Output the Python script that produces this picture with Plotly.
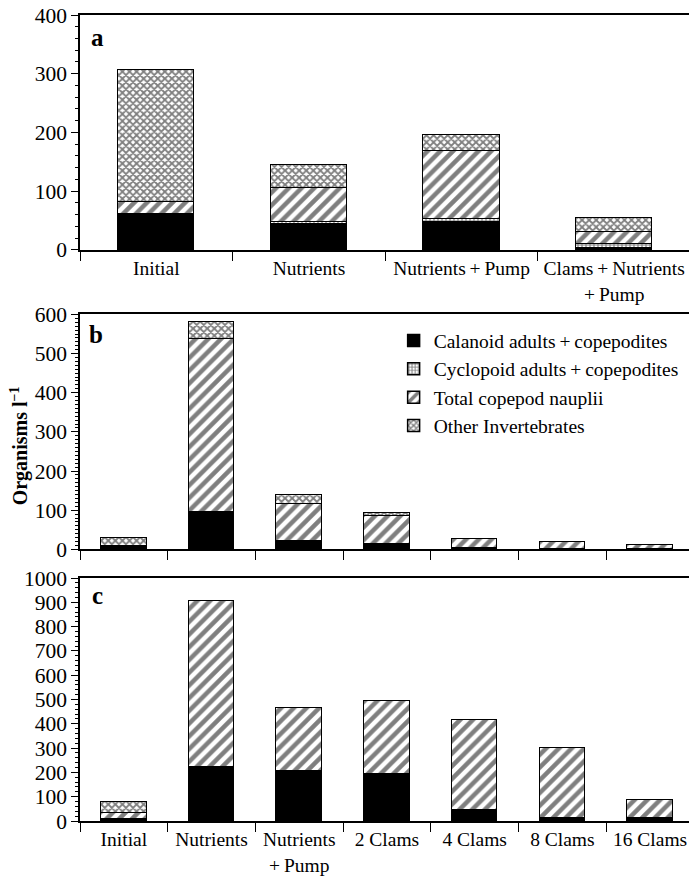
import plotly.graph_objects as go
from plotly.subplots import make_subplots

# ---------------- data ----------------
cats_a = ["Initial", "Nutrients", "Nutrients\u2009+\u2009Pump", "Clams\u2009+\u2009Nutrients<br>+\u2009Pump"]
cal_a = [60, 44, 47, 3]
cyc_a = [2, 4, 5, 7]
nau_a = [20, 58, 116, 20]
oth_a = [224, 38, 28, 25]

cats_bc = ["Initial", "Nutrients", "Nutrients<br>+\u2009Pump", "2 Clams", "4 Clams", "8 Clams", "16 Clams"]
cal_b = [3, 94, 19, 12, 2, 1, 1]
cyc_b = [1, 0, 1, 0, 0, 0, 0]
nau_b = [4, 442, 95, 72, 23, 18, 10]
oth_b = [20, 43, 23, 9, 0, 0, 0]

cal_c = [5, 224, 206, 192, 45, 11, 14]
cyc_c = [2, 0, 0, 0, 0, 0, 0]
nau_c = [24, 682, 257, 301, 370, 289, 73]
oth_c = [45, 0, 0, 0, 0, 0, 0]

series_names = ["Calanoid adults\u2009+\u2009copepodites", "Cyclopoid adults\u2009+\u2009copepodites",
                "Total copepod nauplii", "Other Invertebrates"]
panel_labels = ["a", "b", "c"]
y_title = "Organisms l<sup>\u22121</sup>"

# ---------------- styles ----------------
FONT = "Liberation Serif, Times New Roman, serif"
FS = 19.5
patterns = [
    dict(shape="", fgcolor="black", bgcolor="black"),
    dict(shape="+", size=4, solidity=0.5, fgcolor="black", bgcolor="white"),
    dict(shape="/", size=9, solidity=0.5, fgcolor="black", bgcolor="white"),
    dict(shape="x", size=5, solidity=0.6, fgcolor="black", bgcolor="white"),
]
fills = ["black", "white", "white", "white"]

fig = make_subplots(rows=3, cols=1)

panels = [
    (cats_a, [cal_a, cyc_a, nau_a, oth_a], 0.50),
    (cats_bc, [cal_b, cyc_b, nau_b, oth_b], 0.52),
    (cats_bc, [cal_c, cyc_c, nau_c, oth_c], 0.52),
]

for r, (cats, vals, w) in enumerate(panels, start=1):
    for i, v in enumerate(vals):
        fig.add_trace(go.Bar(
            x=cats, y=v, name=series_names[i], width=w,
            marker=dict(color=fills[i], pattern=patterns[i],
                        line=dict(color="black", width=1.5)),
            showlegend=(r == 2),
        ), row=r, col=1)

doms = [(0.7085, 1.0), (0.337, 0.6285), (0.0, 0.3014)]
ranges = [[0, 400], [0, 600], [0, 1000]]
minor_d = [20, 10, 20]
xr = [[-0.5, 3.49], [-0.5, 6.444], [-0.5, 6.444]]

for r in range(1, 4):
    fig.update_yaxes(row=r, col=1, domain=list(doms[r-1]), range=ranges[r-1], dtick=100,
                     showline=True, linecolor="black", linewidth=1.5, ticks="outside",
                     ticklen=7, tickwidth=1.2, tickcolor="black", showgrid=False, zeroline=False,
                     minor=dict(dtick=minor_d[r-1], ticks="outside", ticklen=3, tickcolor="black", tickwidth=1),
                     tickfont=dict(family=FONT, size=21.5, color="black"))
    fig.update_xaxes(row=r, col=1, type="category", range=xr[r-1], tickson="boundaries",
                     ticks="outside", ticklen=9, tickwidth=1.2, tickcolor="black",
                     showline=True, linecolor="black", linewidth=2, mirror=True,
                     showgrid=False, showticklabels=(r != 2),
                     tickfont=dict(family=FONT, size=FS, color="black"))

label_pos = [(0.028, 0.972), (0.026, 0.603), (0.028, 0.2796)]
for lab, (px, py) in zip(panel_labels, label_pos):
    fig.add_annotation(text="<b>%s</b>" % lab, x=px, y=py, xref="paper", yref="paper",
                       xanchor="center", yanchor="middle",
                       showarrow=False, font=dict(family=FONT, size=25, color="black"))

fig.add_annotation(text="<b>%s</b>" % y_title, x=-0.1, y=0.465, xref="paper", yref="paper",
                   xanchor="center", yanchor="middle",
                   textangle=-90, showarrow=False, font=dict(family=FONT, size=20, color="black"))

fig.update_layout(
    width=689, height=876, barmode="stack", bargap=0,
    margin=dict(l=80, r=0, t=15, b=48),
    plot_bgcolor="white", paper_bgcolor="white",
    font=dict(family=FONT, size=FS, color="black"),
    legend=dict(x=0.515, y=0.62, xanchor="left", yanchor="top", traceorder="normal",
                bgcolor="rgba(0,0,0,0)", font=dict(family=FONT, size=FS, color="black"),
                tracegroupgap=0, itemwidth=30),
)

fig.write_html("out.html")
